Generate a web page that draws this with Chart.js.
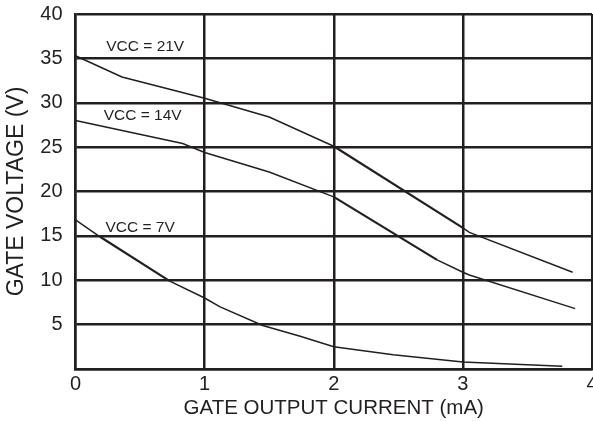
<!DOCTYPE html>
<html>
<head>
<meta charset="utf-8">
<script src="https://cdn.jsdelivr.net/npm/chart.js@4/dist/chart.umd.min.js"></script>
<style>
  html, body { margin: 0; padding: 0; background: #ffffff; }
  #wrap { width: 593px; height: 421px; position: relative; }
</style>
</head>
<body>
<div id="wrap"><canvas id="c"></canvas></div>
<script>
// ---- Data ----
const xTicks = [0, 1, 2, 3, 4];
const yTicks = [0, 5, 10, 15, 20, 25, 30, 35, 40];

const vcc21X = [0, 0.36, 1.0, 1.5, 2.0, 3.0, 3.05, 3.85];
const vcc21Y = [35.3, 32.9, 30.5, 28.4, 25.1, 15.9, 15.4, 10.9];

const vcc14X = [0, 0.83, 1.0, 1.5, 2.0, 2.8, 3.0, 3.05, 3.87];
const vcc14Y = [28.0, 25.4, 24.4, 22.2, 19.4, 12.3, 10.9, 10.6, 6.8];

const vcc7X = [0, 0.19, 0.73, 1.0, 1.12, 1.45, 1.74, 2.0, 2.46, 3.0, 3.77];
const vcc7Y = [16.8, 14.9, 9.9, 8.0, 7.0, 4.9, 3.7, 2.5, 1.6, 0.8, 0.3];

const seriesLabels = ['VCC = 21V', 'VCC = 14V', 'VCC = 7V'];
const labelAnchorX = [0.54, 0.52, 0.50];
const labelAnchorY = [36.3, 28.5, 15.9];

const xTitle = 'GATE OUTPUT CURRENT (mA)';
const yTitle = 'GATE VOLTAGE (V)';

const INK = '#231f20';
const FONT = '"Liberation Sans", Arial, Helvetica, sans-serif';

function pts(xs, ys) { return xs.map((x, i) => ({ x: x, y: ys[i] })); }

const curveLabels = {
  id: 'curveLabels',
  afterDatasetsDraw(chart) {
    const { ctx, scales } = chart;
    ctx.save();
    ctx.fillStyle = INK;
    ctx.font = '15.5px ' + FONT;
    ctx.textAlign = 'center';
    ctx.textBaseline = 'middle';
    seriesLabels.forEach((t, i) => {
      ctx.fillText(t, scales.x.getPixelForValue(labelAnchorX[i]), scales.y.getPixelForValue(labelAnchorY[i]));
    });
    ctx.restore();
  }
};

const lineDs = (xs, ys, thick) => ({
  data: pts(xs, ys),
  borderColor: INK,
  borderWidth: 1.5,
  pointRadius: 0,
  tension: 0,
  fill: false,
  segment: {
    borderWidth: c => (thick(c.p0.parsed.x, c.p1.parsed.x) ? 2.2 : 1.5)
  }
});

new Chart(document.getElementById('c'), {
  type: 'line',
  data: {
    datasets: [
      lineDs(vcc21X, vcc21Y, (a, b) => a >= 2 && b <= 3),
      lineDs(vcc14X, vcc14Y, (a, b) => a >= 2 && b <= 2.8),
      lineDs(vcc7X, vcc7Y, (a, b) => a >= 0.19 && b <= 0.73)
    ]
  },
  options: {
    responsive: true,
    maintainAspectRatio: false,
    animation: false,
    devicePixelRatio: 1,
    layout: { padding: { top: 14, right: 1, left: 0, bottom: 0 } },
    plugins: { legend: { display: false }, tooltip: { enabled: false } },
    scales: {
      x: {
        type: 'linear',
        min: xTicks[0],
        max: xTicks[xTicks.length - 1],
        afterBuildTicks: s => { s.ticks = xTicks.map(v => ({ value: v })); },
        afterFit: s => { s.height = 52; s.paddingLeft = 0; s.paddingRight = 0; },
        grid: { color: INK, lineWidth: 2.5, drawTicks: false },
        border: { color: INK, width: 2.5 },
        ticks: { color: INK, font: { family: FONT, size: 20 }, padding: 3, maxRotation: 0 },
        title: { display: true, text: xTitle, color: INK, font: { family: FONT, size: 20.5 }, padding: { top: 0, bottom: 0 } }
      },
      y: {
        type: 'linear',
        min: yTicks[0],
        max: yTicks[yTicks.length - 1],
        afterBuildTicks: s => { s.ticks = yTicks.map(v => ({ value: v })); },
        afterFit: s => { s.width = 75.5; s.paddingTop = 0; s.paddingBottom = 0; },
        grid: { color: INK, lineWidth: 2.5, drawTicks: false },
        border: { color: INK, width: 2.5 },
        ticks: { color: INK, font: { family: FONT, size: 20 }, padding: 13, callback: v => (v === 0 ? '' : String(v)) },
        title: { display: true, text: yTitle, color: INK, font: { family: FONT, size: 23 }, padding: { top: 3, bottom: 0 } }
      }
    }
  },
  plugins: [curveLabels]
});
</script>
</body>
</html>
